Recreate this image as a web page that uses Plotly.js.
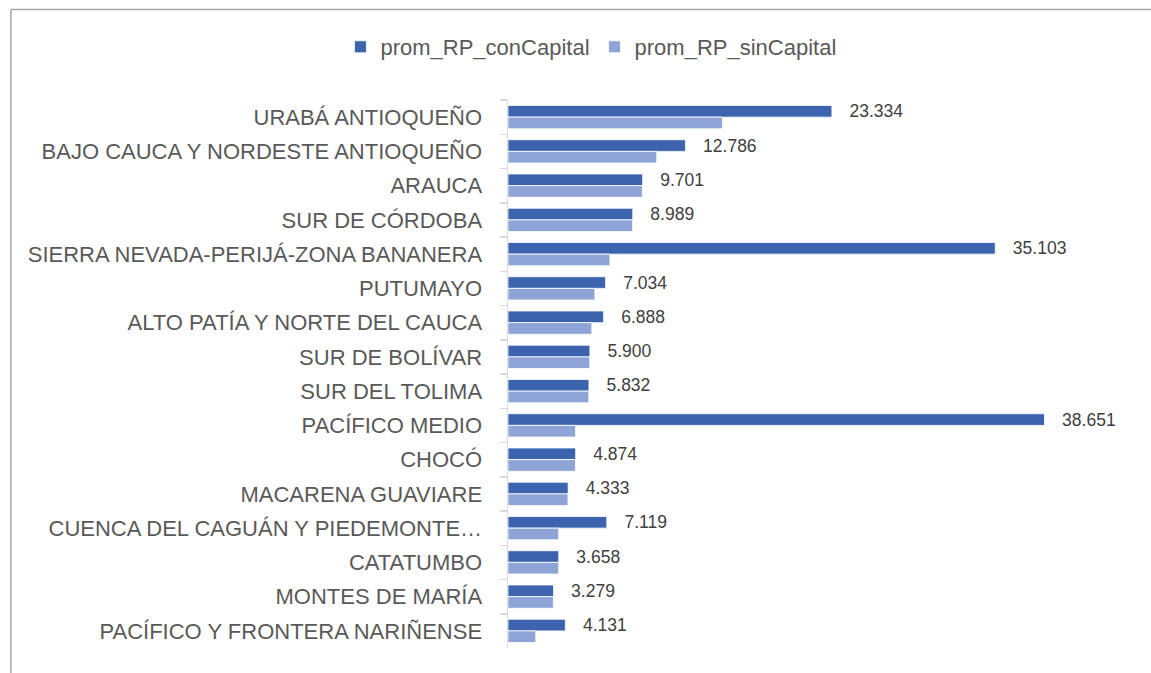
<!DOCTYPE html>
<html>
<head>
<meta charset="utf-8">
<script src="https://cdn.plot.ly/plotly-3.0.1.min.js"></script>
<style>html,body{margin:0;padding:0;background:#fff;}#chart{width:1151px;height:673px;}</style>
</head>
<body>
<div id="chart"></div>
<script>
const categories = [
  "URABÁ ANTIOQUEÑO",
  "BAJO CAUCA Y NORDESTE ANTIOQUEÑO",
  "ARAUCA",
  "SUR DE CÓRDOBA",
  "SIERRA NEVADA-PERIJÁ-ZONA BANANERA",
  "PUTUMAYO",
  "ALTO PATÍA Y NORTE DEL CAUCA",
  "SUR DE BOLÍVAR",
  "SUR DEL TOLIMA",
  "PACÍFICO MEDIO",
  "CHOCÓ",
  "MACARENA GUAVIARE",
  "CUENCA DEL CAGUÁN Y PIEDEMONTE…",
  "CATATUMBO",
  "MONTES DE MARÍA",
  "PACÍFICO Y FRONTERA NARIÑENSE"
];
const promConCapital = [23334, 12786, 9701, 8989, 35103, 7034, 6888, 5900, 5832, 38651, 4874, 4333, 7119, 3658, 3279, 4131];
const promSinCapital = [15450, 10720, 9680, 8980, 7340, 6260, 6040, 5890, 5820, 4870, 4860, 4320, 3650, 3650, 3270, 2000];
const seriesNames = ["prom_RP_conCapital", "prom_RP_sinCapital"];

const W = 1151, H = 673;
const L = 508, R = 59.5, T = 100, B = 25;
const pw = W - L - R, ph = H - T - B;
function px2x(p){ return (p - L) / pw; }
function py2y(p){ return (H - B - p) / ph; }
const FONT = "Liberation Sans Narrow, Arial Narrow, Liberation Sans, Arial, sans-serif";

const traces = [
  {
    type: "bar", orientation: "h", name: seriesNames[0],
    y: categories, x: promConCapital,
    marker: {color: "#3c64ae", line: {color: "#ffffff", width: 0.8}},
    texttemplate: "\u00a0\u00a0\u00a0%{x:,}", textposition: "outside",
    constraintext: "none", cliponaxis: false,
    textfont: {family: FONT, size: 17.5, color: "#404040"},
    hoverinfo: "x+y"
  },
  {
    type: "bar", orientation: "h", name: seriesNames[1],
    y: categories, x: promSinCapital,
    marker: {color: "#8fa4d6", line: {color: "#ffffff", width: 0.8}},
    hoverinfo: "x+y"
  }
];

const layout = {
  width: W, height: H,
  margin: {l: L, r: R, t: T, b: B},
  paper_bgcolor: "#ffffff", plot_bgcolor: "#ffffff",
  barmode: "group", bargap: 0.32, bargroupgap: 0,
  separators: ",.",
  font: {family: FONT, color: "#595959"},
  xaxis: {range: [0, 42000], visible: false, showgrid: false, zeroline: false, fixedrange: true},
  yaxis: {
    type: "category", autorange: "reversed",
    showline: true, linecolor: "#d9d9d9", linewidth: 1.5,
    ticks: "outside", tickson: "boundaries", ticklen: 7, tickcolor: "#d9d9d9", tickwidth: 1.5,
    ticklabelstandoff: 20,
    tickfont: {family: FONT, size: 22, color: "#595959"},
    showgrid: false, zeroline: false, fixedrange: true
  },
  legend: {
    orientation: "h", x: px2x(591), xanchor: "center", y: py2y(47), yanchor: "middle",
    font: {family: FONT, size: 22, color: "#595959"},
    itemwidth: 30, traceorder: "normal", bgcolor: "rgba(0,0,0,0)"
  },
  shapes: [
    {type: "line", xref: "paper", yref: "paper", x0: px2x(10.5), x1: px2x(10.5), y0: py2y(9.5), y1: py2y(700), line: {color: "#a6a6a6", width: 1.5}},
    {type: "line", xref: "paper", yref: "paper", x0: px2x(10.5), x1: px2x(1200), y0: py2y(9.5), y1: py2y(9.5), line: {color: "#a6a6a6", width: 1.5}}
  ],
  showlegend: true
};

Plotly.newPlot("chart", traces, layout, {displayModeBar: false, staticPlot: true});
</script>
</body>
</html>
